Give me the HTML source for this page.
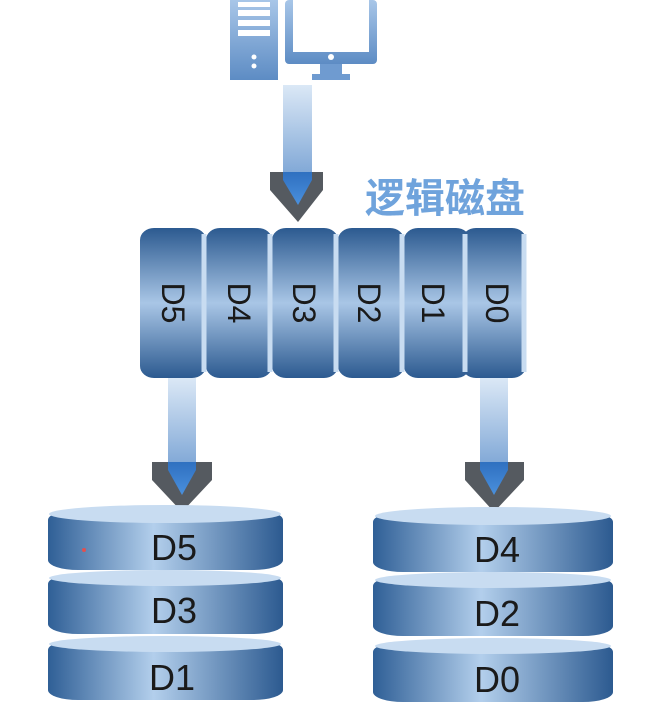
<!DOCTYPE html>
<html><head><meta charset="utf-8"><style>body{margin:0;background:#fff}svg{display:block}</style></head><body>
<svg width="669" height="717" viewBox="0 0 669 717" xmlns="http://www.w3.org/2000/svg">
<defs>
<linearGradient id="vg" x1="0" y1="0" x2="0" y2="1">
<stop offset="0" stop-color="#2c5a90"/><stop offset="0.5" stop-color="#a9c6e6"/><stop offset="1" stop-color="#2c5a90"/>
</linearGradient>
<linearGradient id="hg" x1="0" y1="0" x2="1" y2="0">
<stop offset="0" stop-color="#2f5f96"/><stop offset="0.45" stop-color="#b3cfec"/><stop offset="1" stop-color="#2c5a90"/>
</linearGradient>
<linearGradient id="sh" x1="0" y1="0" x2="0" y2="1">
<stop offset="0" stop-color="#dbe8f6"/><stop offset="1" stop-color="#7fa7d6"/>
</linearGradient>
<linearGradient id="hd" x1="0" y1="0" x2="0" y2="1">
<stop offset="0" stop-color="#2f70c0"/><stop offset="1" stop-color="#4a90dd"/>
</linearGradient>
<linearGradient id="ic" x1="0" y1="0" x2="0" y2="1">
<stop offset="0" stop-color="#a8c6e8"/><stop offset="1" stop-color="#5d8cc4"/>
</linearGradient>
</defs>
<!-- computer icons -->
<rect x="230" y="0" width="48" height="80" fill="url(#ic)"/>
<rect x="238" y="2" width="32" height="5" fill="#fff"/><rect x="238" y="10" width="32" height="6" fill="#fff"/><rect x="238" y="20" width="32" height="6" fill="#fff"/><rect x="238" y="30" width="32" height="6" fill="#fff"/>
<circle cx="254" cy="57" r="2.5" fill="#fff"/><circle cx="254" cy="66" r="2.5" fill="#fff"/>
<rect x="285" y="0" width="92" height="64" rx="4" fill="url(#ic)"/>
<rect x="293" y="0" width="76" height="52" fill="#fff"/>
<circle cx="331" cy="57" r="3" fill="#fff"/>
<rect x="320" y="64" width="22" height="10" fill="#6f9bd0"/><rect x="312" y="74" width="38" height="6" fill="#6f9bd0"/>
<!-- arrows -->
<g>
<rect x="283" y="85" width="29" height="90" fill="url(#sh)"/>
<polygon points="270,172 323,172 323,190 298,222 270,190" fill="#555a60"/>
<polygon points="283,172 312,172 312,180 298,205 283,180" fill="url(#hd)"/>
</g>
<g>
<rect x="168" y="378" width="28" height="88" fill="url(#sh)"/>
<polygon points="152,462 212,462 212,480 182,512 152,480" fill="#555a60"/>
<polygon points="168,462 196,462 196,470 182,495 168,470" fill="url(#hd)"/>
</g>
<g>
<rect x="480" y="378" width="28" height="88" fill="url(#sh)"/>
<polygon points="465,462 524,462 524,480 494,512 465,480" fill="#555a60"/>
<polygon points="480,462 508,462 508,470 494,495 480,470" fill="url(#hd)"/>
</g>
<text x="365" y="212" font-family="Liberation Sans, Noto Sans CJK SC, sans-serif" font-size="40" font-weight="bold" fill="#6fa3dc">逻辑磁盘</text>
<!-- logical disk slices -->
<g font-family="Liberation Sans, sans-serif" font-size="32" fill="#1a1a1a">
<rect x="140" y="228" width="66" height="150" rx="14" ry="12" fill="url(#vg)"/>
<rect x="206" y="228" width="66" height="150" rx="14" ry="12" fill="url(#vg)"/>
<rect x="272" y="228" width="66" height="150" rx="14" ry="12" fill="url(#vg)"/>
<rect x="338" y="228" width="66" height="150" rx="14" ry="12" fill="url(#vg)"/>
<rect x="404" y="228" width="66" height="150" rx="14" ry="12" fill="url(#vg)"/>
<rect x="462" y="228" width="64" height="150" rx="14" ry="12" fill="url(#vg)"/>
<g stroke="#c8dcf1" stroke-width="5" fill="none">
<line x1="204" y1="234" x2="204" y2="372"/><line x1="270" y1="234" x2="270" y2="372"/><line x1="336" y1="234" x2="336" y2="372"/><line x1="402" y1="234" x2="402" y2="372"/><line x1="465" y1="234" x2="465" y2="372"/><line x1="524" y1="234" x2="524" y2="372"/>
</g>
<text transform="translate(162,303) rotate(90)" text-anchor="middle">D5</text>
<text transform="translate(228,303) rotate(90)" text-anchor="middle">D4</text>
<text transform="translate(293,303) rotate(90)" text-anchor="middle">D3</text>
<text transform="translate(358,303) rotate(90)" text-anchor="middle">D2</text>
<text transform="translate(422,303) rotate(90)" text-anchor="middle">D1</text>
<text transform="translate(486,303) rotate(90)" text-anchor="middle">D0</text>
</g>
<!-- stacks -->
<g font-family="Liberation Sans, sans-serif" font-size="36" fill="#1a1a1a" text-anchor="middle">
<g>
<rect x="48" y="510" width="235" height="60" rx="30" ry="10" fill="url(#hg)"/><ellipse cx="165" cy="514" rx="116" ry="9" fill="#c8dcf1"/>
<rect x="48" y="574" width="235" height="60" rx="30" ry="10" fill="url(#hg)"/><ellipse cx="165" cy="578" rx="116" ry="8" fill="#c8dcf1"/>
<rect x="48" y="640" width="235" height="60" rx="30" ry="10" fill="url(#hg)"/><ellipse cx="165" cy="644" rx="116" ry="8" fill="#c8dcf1"/>
<text x="174" y="560">D5</text><text x="174" y="623">D3</text><text x="172" y="690">D1</text>
<circle cx="84" cy="550" r="2" fill="#e05050"/>
</g>
<g>
<rect x="373" y="512" width="240" height="60" rx="30" ry="10" fill="url(#hg)"/><ellipse cx="493" cy="516" rx="118" ry="9" fill="#c8dcf1"/>
<rect x="373" y="576" width="240" height="60" rx="30" ry="10" fill="url(#hg)"/><ellipse cx="493" cy="580" rx="118" ry="8" fill="#c8dcf1"/>
<rect x="373" y="642" width="240" height="60" rx="30" ry="10" fill="url(#hg)"/><ellipse cx="493" cy="646" rx="118" ry="8" fill="#c8dcf1"/>
<text x="497" y="562">D4</text><text x="497" y="626">D2</text><text x="497" y="692">D0</text>
</g>
</g>
</svg>
</body></html>
